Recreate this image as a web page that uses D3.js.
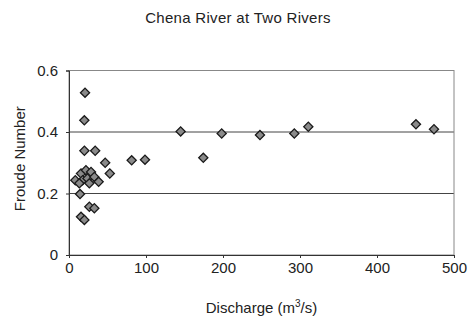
<!DOCTYPE html>
<html><head><meta charset="utf-8">
<script src="https://cdn.jsdelivr.net/npm/d3@7"></script>
<style>body{margin:0;background:#fff}svg{display:block}text{font-family:"Liberation Sans",Arial,sans-serif;fill:#222}</style>
</head><body><svg id="c" width="472" height="323"></svg>
<script>
const discharge = [20.8, 19.9, 20, 34, 47, 53, 81.4, 98.7, 145, 174.4, 198.3, 248, 292.6, 310.8, 450.6, 474,
  8.2, 15.6, 22, 28.6, 17.7, 24, 32.9, 38.5, 13.4, 26.4, 14.3, 26.4, 32.9, 15.6, 20];
const froude = [0.528, 0.438, 0.339, 0.339, 0.30, 0.265, 0.308, 0.310, 0.402, 0.316, 0.395, 0.39, 0.395, 0.417, 0.425, 0.409,
  0.243, 0.265, 0.276, 0.27, 0.243, 0.249, 0.254, 0.238, 0.233, 0.233, 0.198, 0.157, 0.152, 0.124, 0.114];
const xTicks = [0, 100, 200, 300, 400, 500];
const yTicks = [0, 0.2, 0.4, 0.6];
const title = "Chena River at Two Rivers";

const FONT = '"Liberation Sans",Arial,sans-serif';
const svg = d3.select("#c");
const L = 69, R = 454, T = 70.5, B = 255;
const x = d3.scaleLinear().domain([0, 500]).range([L, R]);
const y = d3.scaleLinear().domain([0, 0.6]).range([B, T]);

// gridlines
svg.append("g").selectAll("line").data(yTicks.filter(d => d > 0)).join("line")
  .attr("x1", L).attr("x2", R).attr("y1", d => y(d)).attr("y2", d => y(d))
  .attr("stroke", "#444").attr("stroke-width", 1);
// frame
svg.append("rect").attr("x", L).attr("y", T).attr("width", R - L).attr("height", B - T)
  .attr("fill", "none").attr("stroke", "#888").attr("stroke-width", 1);

const xa = svg.append("g").attr("transform", `translate(0,${B})`)
  .call(d3.axisBottom(x).tickValues(xTicks).tickSize(3).tickPadding(4).tickFormat(d3.format("d")));
const ya = svg.append("g").attr("transform", `translate(${L},0)`)
  .call(d3.axisLeft(y).tickValues(yTicks).tickSize(3).tickPadding(8).tickFormat(d => d === 0 ? "0" : d3.format(".1f")(d)));
[xa, ya].forEach(a => {
  a.select(".domain").attr("stroke", "#333");
  a.selectAll(".tick line").attr("stroke", "#333");
  a.selectAll("text").attr("font-size", 15).attr("font-family", FONT).attr("fill", "#222");
});

svg.append("g").selectAll("path").data(discharge.map((d, i) => [d, froude[i]])).join("path")
  .attr("d", d3.symbol().type(d3.symbolSquare).size(42))
  .attr("transform", d => `translate(${x(d[0])},${y(d[1])}) rotate(45)`)
  .attr("fill", "#8a8a8a").attr("stroke", "#1a1a1a").attr("stroke-width", 1.3);

svg.append("text").attr("x", 238).attr("y", 23).attr("text-anchor", "middle").attr("font-size", 15)
  .attr("letter-spacing", 0.3).text(title);
svg.append("text").attr("x", (L + R) / 2).attr("y", 313).attr("text-anchor", "middle").attr("font-size", 15)
  .html('Discharge (m<tspan dy="-6" font-size="10">3</tspan><tspan dy="6">/s)</tspan>');
svg.append("text").attr("transform", `translate(25,${(T + B) / 2 - 4}) rotate(-90)`).attr("text-anchor", "middle")
  .attr("font-size", 15).text("Froude Number");
</script></body></html>
